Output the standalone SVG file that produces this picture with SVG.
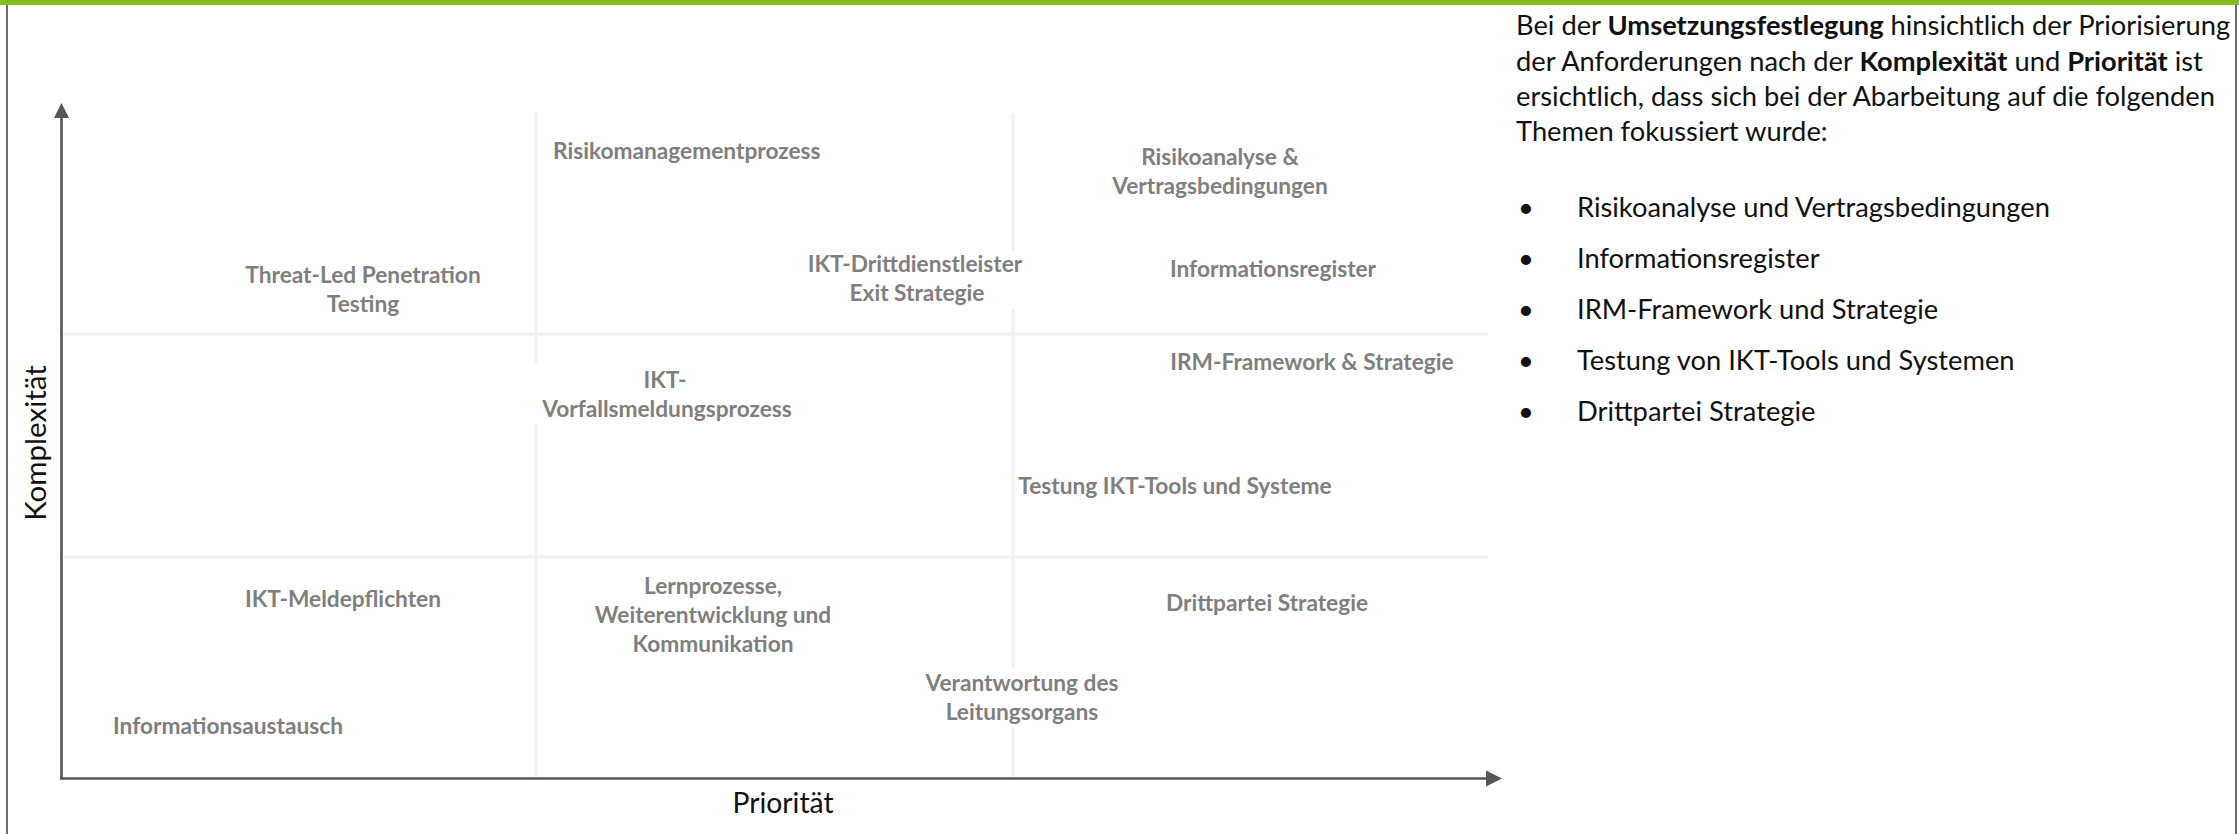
<svg xmlns="http://www.w3.org/2000/svg" width="2239" height="834" viewBox="0 0 2239 834">
<style>
.lbl{font-family:Lato,"Open Sans","Liberation Sans",sans-serif;font-weight:700;font-size:22.7px;fill:#7F7F7F;text-anchor:middle}
.lbl-l{text-anchor:start}
.grid{stroke:#F2F2F2;stroke-width:3;fill:none}
.axis{stroke:#53565A;stroke-width:2.6;fill:none}
.head{fill:#53565A}
.ax-t{font-family:Lato,"Open Sans","Liberation Sans",sans-serif;font-size:28.3px;fill:#111}
.body{font-family:Lato,"Open Sans","Liberation Sans",sans-serif;font-size:27.3px;fill:#111}
.b{font-weight:700}
</style>
<rect x="0" y="0" width="2239" height="834" fill="#FFFFFF"/>
<rect x="0" y="0" width="2239" height="5" fill="#84BC23"/>
<line x1="7" y1="5" x2="7" y2="834" stroke="#6E6E6E" stroke-width="2"/>
<line x1="2236" y1="5" x2="2236" y2="834" stroke="#6E6E6E" stroke-width="2"/>

<g id="grid">
<line class="grid" x1="536" y1="113" x2="536" y2="365"/>
<line class="grid" x1="536" y1="424" x2="536" y2="777"/>
<line class="grid" x1="1013" y1="113" x2="1013" y2="251"/>
<line class="grid" x1="1013" y1="309" x2="1013" y2="668"/>
<line class="grid" x1="1013" y1="727" x2="1013" y2="777"/>
<line class="grid" x1="63" y1="334" x2="1488" y2="334"/>
<line class="grid" x1="63" y1="557" x2="1488" y2="557"/>
</g>

<g id="connectors">
<line class="axis" x1="61.5" y1="779" x2="61.5" y2="116"/>
<polygon class="head" points="61.5,103 54,118 69,118"/>
<line class="axis" x1="60" y1="778.5" x2="1488" y2="778.5"/>
<polygon class="head" points="1502,778.5 1486,770.5 1486,786.5"/>
</g>

<g id="axis-y-label"><text class="ax-t" transform="translate(46,443) rotate(-90)" text-anchor="middle" style="font-size:29.5px">Komplexität</text></g>
<g id="axis-x-label"><text class="ax-t" x="783" y="813" text-anchor="middle">Priorität</text></g>

<g id="n-risikomanagement"><text class="lbl lbl-l" x="553" y="159">Risikomanagementprozess</text></g>
<g id="n-risikoanalyse"><text class="lbl" x="1220" y="165">Risikoanalyse &amp;</text><text class="lbl" x="1220" y="194">Vertragsbedingungen</text></g>
<g id="n-tlpt"><text class="lbl" x="363" y="283">Threat-Led Penetration</text><text class="lbl" x="363" y="312">Testing</text></g>
<g id="n-drittdienstleister"><text class="lbl" x="915" y="272">IKT-Drittdienstleister</text><text class="lbl" x="917" y="301">Exit Strategie</text></g>
<g id="n-informationsregister"><text class="lbl" x="1273" y="277">Informationsregister</text></g>
<g id="n-irm"><text class="lbl" x="1312" y="370">IRM-Framework &amp; Strategie</text></g>
<g id="n-vorfall"><text class="lbl" x="665" y="388">IKT-</text><text class="lbl" x="667" y="417">Vorfallsmeldungsprozess</text></g>
<g id="n-testung"><text class="lbl" x="1175" y="494">Testung IKT-Tools und Systeme</text></g>
<g id="n-meldepflichten"><text class="lbl" x="343" y="607">IKT-Meldepflichten</text></g>
<g id="n-lernprozesse"><text class="lbl" x="713" y="594">Lernprozesse,</text><text class="lbl" x="713" y="623">Weiterentwicklung und</text><text class="lbl" x="713" y="652">Kommunikation</text></g>
<g id="n-drittpartei"><text class="lbl" x="1267" y="611">Drittpartei Strategie</text></g>
<g id="n-verantwortung"><text class="lbl" x="1022" y="691">Verantwortung des</text><text class="lbl" x="1022" y="720">Leitungsorgans</text></g>
<g id="n-informationsaustausch"><text class="lbl lbl-l" x="113" y="734">Informationsaustausch</text></g>

<g id="summary">
<text class="body" x="1516" y="35">Bei der <tspan class="b">Umsetzungsfestlegung</tspan> hinsichtlich der Priorisierung</text>
<text class="body" x="1516" y="70.5">der Anforderungen nach der <tspan class="b">Komplexität</tspan> und <tspan class="b">Priorität</tspan> ist</text>
<text class="body" x="1516" y="106">ersichtlich, dass sich bei der Abarbeitung auf die folgenden</text>
<text class="body" x="1516" y="141">Themen fokussiert wurde:</text>
<g id="bullets">
<text class="body" x="1518" y="217">•</text><text class="body" x="1577" y="217">Risikoanalyse und Vertragsbedingungen</text>
<text class="body" x="1518" y="268">•</text><text class="body" x="1577" y="268">Informationsregister</text>
<text class="body" x="1518" y="319">•</text><text class="body" x="1577" y="319">IRM-Framework und Strategie</text>
<text class="body" x="1518" y="370">•</text><text class="body" x="1577" y="370">Testung von IKT-Tools und Systemen</text>
<text class="body" x="1518" y="421">•</text><text class="body" x="1577" y="421">Drittpartei Strategie</text>
</g>
</g>
</svg>
